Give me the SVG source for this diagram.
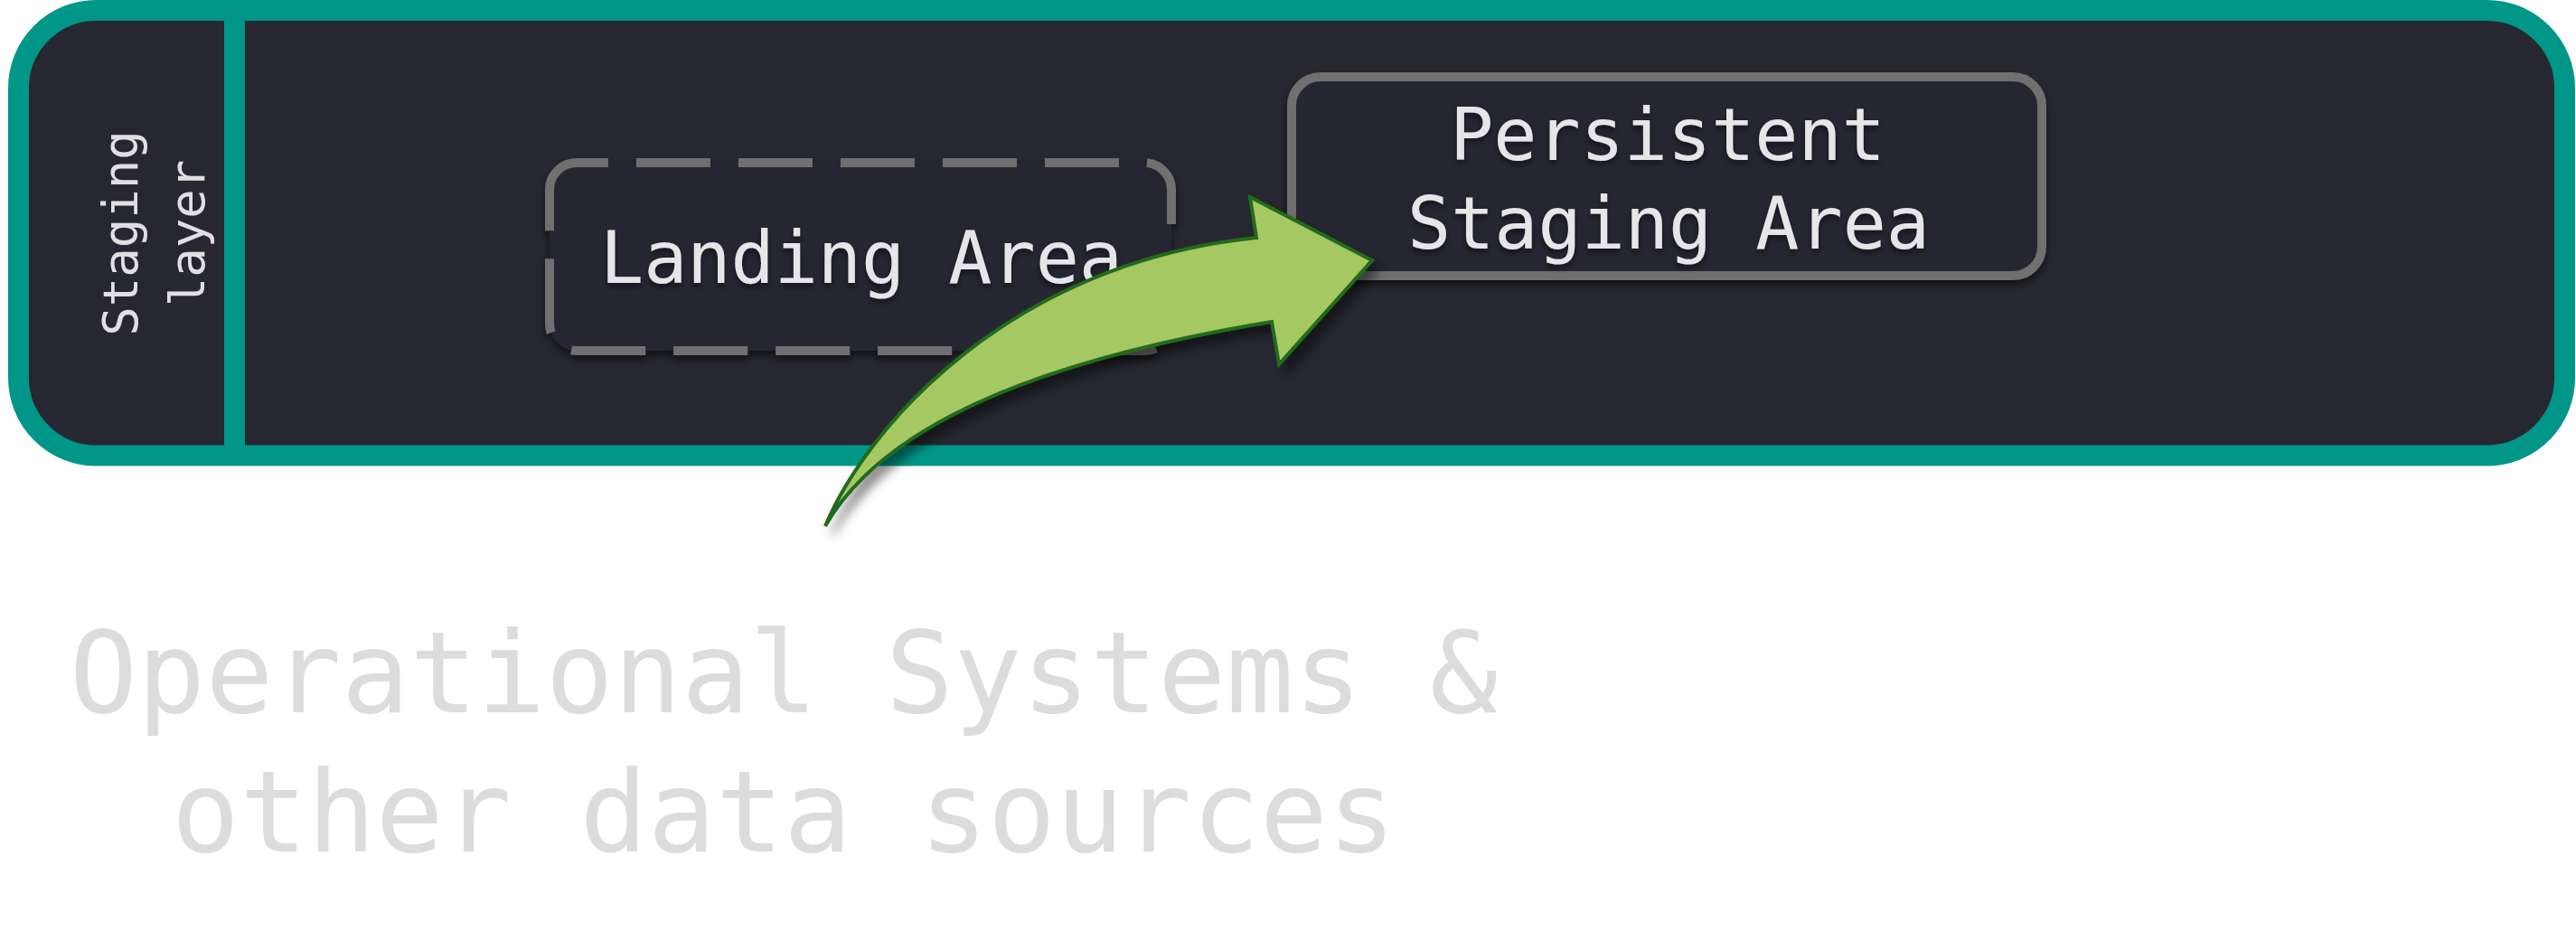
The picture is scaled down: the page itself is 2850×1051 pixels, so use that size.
<svg xmlns="http://www.w3.org/2000/svg" width="2850" height="1051" viewBox="0 0 2850 1051">
  <style>
    .mono { font-family: "DejaVu Sans Mono", "Liberation Mono", monospace; }
    .boxtext { fill: #e6e6e8; font-size: 80px; text-anchor: middle; }
    .boxstroke { fill: #262730; stroke: #707070; stroke-width: 10; }
  </style>
  <defs>
    <filter id="boxShadow" x="-10%" y="-20%" width="120%" height="150%">
      <feDropShadow dx="0" dy="5" stdDeviation="4" flood-color="#000" flood-opacity="0.55"/>
    </filter>
    <filter id="textShadow" x="-10%" y="-30%" width="120%" height="170%">
      <feDropShadow dx="0" dy="4" stdDeviation="3" flood-color="#000" flood-opacity="0.5"/>
    </filter>
    <filter id="arrowShadow" x="-20%" y="-20%" width="150%" height="160%">
      <feDropShadow dx="8" dy="9" stdDeviation="6" flood-color="#000" flood-opacity="0.45"/>
    </filter>
  </defs>

  <rect x="0" y="0" width="2850" height="1051" fill="#ffffff"/>

  <g id="staging-layer">
    <rect x="20.5" y="11.5" width="2817" height="492.5" rx="86" ry="86" fill="#262730" stroke="#009688" stroke-width="23"/>
    <line x1="259.5" y1="11.5" x2="259.5" y2="504" stroke="#009688" stroke-width="23"/>
    <text class="mono" font-size="54" fill="#e0e0e2" text-anchor="middle" transform="translate(152,258) rotate(-90)">Staging</text>
    <text class="mono" font-size="54" fill="#e0e0e2" text-anchor="middle" transform="translate(226,258) rotate(-90)">layer</text>
  </g>

  <g id="landing-area">
    <path class="boxstroke" filter="url(#boxShadow)" stroke-dasharray="82 31"
          d="M 608 210 A 30 30 0 0 1 638 180 L 1266 180 A 30 30 0 0 1 1296 210 L 1296 358 A 30 30 0 0 1 1266 388 L 638 388 A 30 30 0 0 1 608 358 Z"/>
    <text class="mono boxtext" x="953" y="313" filter="url(#textShadow)">Landing Area</text>
  </g>

  <g id="persistent-staging-area">
    <rect class="boxstroke" filter="url(#boxShadow)" x="1429" y="85" width="830" height="220" rx="32" ry="32"/>
    <text class="mono boxtext" x="1845" y="177" filter="url(#textShadow)">Persistent</text>
    <text class="mono boxtext" x="1846" y="275" filter="url(#textShadow)">Staging Area</text>
  </g>

  <g id="operational-systems">
    <text class="mono" font-size="125" fill="#dcdcdc" text-anchor="middle" x="867" y="788">Operational Systems &amp;</text>
    <text class="mono" font-size="125" fill="#dcdcdc" text-anchor="middle" x="867" y="942">other data sources</text>
  </g>

  <g id="connectors">
    <path filter="url(#arrowShadow)" fill="#a6c864" stroke="#236b1a" stroke-width="4" stroke-linejoin="miter"
          d="M 913 582 C 960 470 1120 290 1390 263 L 1383 218 L 1518 288 L 1415 403 L 1407 356 C 1080 410 960 500 913 582 Z"/>
  </g>
</svg>
